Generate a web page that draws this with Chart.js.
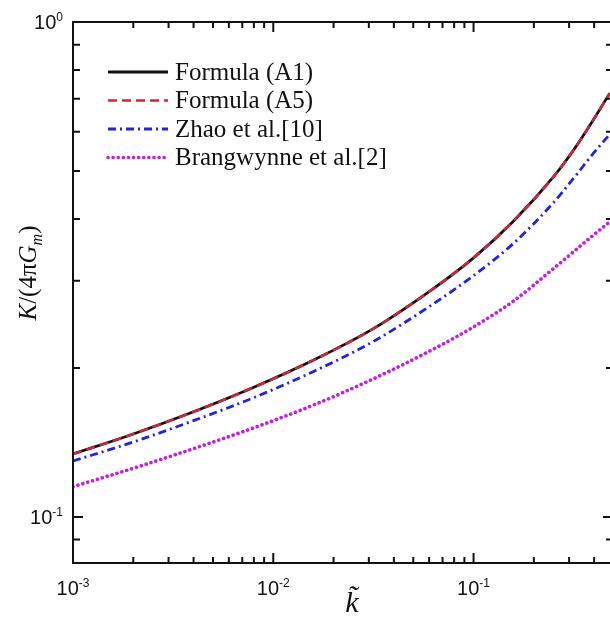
<!DOCTYPE html>
<html>
<head>
<meta charset="utf-8">
<script src="https://cdn.jsdelivr.net/npm/chart.js@4.4.0/dist/chart.umd.min.js"></script>
<style>
  html, body { margin: 0; padding: 0; background: #fff; }
  #wrap { width: 610px; height: 620px; }
</style>
</head>
<body>
<div id="wrap"><canvas id="kChart" width="610" height="620"></canvas></div>
<script>
// values
const kValues    = [0.001, 0.002, 0.004, 0.008, 0.016, 0.0316, 0.063, 0.1, 0.158, 0.251, 0.316, 0.398, 0.479];
const formulaA1  = [0.1340, 0.1471, 0.1631, 0.1828, 0.2077, 0.2401, 0.2893, 0.3338, 0.3958, 0.4870, 0.5513, 0.6360, 0.7183];
const formulaA5  = [0.1340, 0.1471, 0.1631, 0.1828, 0.2077, 0.2401, 0.2893, 0.3338, 0.3958, 0.4870, 0.5513, 0.6360, 0.7183];
const zhao       = [0.1297, 0.1417, 0.1565, 0.1742, 0.1970, 0.2262, 0.2695, 0.3073, 0.3568, 0.4319, 0.4835, 0.5437, 0.5932];
const brangwynne = [0.1151, 0.1254, 0.1374, 0.1514, 0.1685, 0.1901, 0.2183, 0.2421, 0.2729, 0.3177, 0.3436, 0.3716, 0.3948];

const seriesLabels = ['Formula (A1)', 'Formula (A5)', 'Zhao et al.[10]', 'Brangwynne et al.[2]'];

// tick labels are drawn as "10" + superscript exponent
const xTickValues = [0.001, 0.01, 0.1];
const xTickExps   = ['-3', '-2', '-1'];
const yTickValues = [0.1, 1];
const yTickExps   = ['-1', '0'];
const xMinorTicks = [0.002, 0.003, 0.004, 0.005, 0.006, 0.007, 0.008, 0.009,
                     0.02, 0.03, 0.04, 0.05, 0.06, 0.07, 0.08, 0.09, 0.2, 0.3, 0.4];
const yMinorTicks = [0.09, 0.2, 0.3, 0.4, 0.5, 0.6, 0.7, 0.8, 0.9];

const pts = (ys) => kValues.map((k, i) => ({x: k, y: ys[i]}));

const serif = '"Liberation Serif", "Times New Roman", serif';
const sans = '"Liberation Sans", Arial, sans-serif';

function drawPower(ctx, exp, x, y, align) {
  // "10" with a raised exponent, x is the anchor
  ctx.font = '20px ' + sans;
  const wBase = ctx.measureText('10').width;
  ctx.font = '12px ' + sans;
  const wExp = ctx.measureText(exp).width;
  const total = wBase + wExp;
  let left = x;
  if (align === 'center') left = x - total / 2;
  if (align === 'right') left = x - total;
  ctx.textAlign = 'left';
  ctx.textBaseline = 'alphabetic';
  ctx.font = '20px ' + sans;
  ctx.fillText('10', left, y);
  ctx.font = '12px ' + sans;
  ctx.fillText(exp, left + wBase, y - 8);
}

const frame = {
  id: 'frame',
  afterDraw(chart) {
    const {ctx, chartArea: a, scales: {x, y}} = chart;
    ctx.save();
    ctx.strokeStyle = '#111';
    ctx.fillStyle = '#111';
    ctx.lineWidth = 2;
    ctx.beginPath();
    ctx.moveTo(a.right + 4, a.top);
    ctx.lineTo(a.left, a.top);
    ctx.lineTo(a.left, a.bottom);
    ctx.lineTo(a.right + 4, a.bottom);
    ctx.stroke();

    // inward ticks on all four sides
    const R = a.right + 3;
    ctx.beginPath();
    xTickValues.forEach(v => {
      const px = x.getPixelForValue(v);
      ctx.moveTo(px, a.bottom); ctx.lineTo(px, a.bottom - 10);
      ctx.moveTo(px, a.top); ctx.lineTo(px, a.top + 10);
    });
    xMinorTicks.forEach(v => {
      const px = x.getPixelForValue(v);
      ctx.moveTo(px, a.bottom); ctx.lineTo(px, a.bottom - 6);
      ctx.moveTo(px, a.top); ctx.lineTo(px, a.top + 6);
    });
    yTickValues.forEach(v => {
      const py = y.getPixelForValue(v);
      ctx.moveTo(a.left, py); ctx.lineTo(a.left + 10, py);
      ctx.moveTo(R, py); ctx.lineTo(R - 10, py);
    });
    yMinorTicks.forEach(v => {
      const py = y.getPixelForValue(v);
      ctx.moveTo(a.left, py); ctx.lineTo(a.left + 7, py);
      ctx.moveTo(R, py); ctx.lineTo(R - 7, py);
    });
    ctx.stroke();

    // tick labels
    xTickValues.forEach((v, i) => drawPower(ctx, xTickExps[i], x.getPixelForValue(v), a.bottom + 32, 'center'));
    yTickValues.forEach((v, i) => drawPower(ctx, yTickExps[i], a.left - 10, y.getPixelForValue(v) + 7, 'right'));

    // x title
    ctx.font = 'italic 30px ' + serif;
    ctx.textAlign = 'center';
    ctx.textBaseline = 'alphabetic';
    ctx.fillText('k\u0303', 352, 612);

    // y title: K/(4πG_m)
    ctx.translate(36, 273);
    ctx.rotate(-Math.PI / 2);
    const parts = [
      {t: 'K', f: 'italic 25px ' + serif, dy: 0},
      {t: '/(4\u03c0', f: '25px ' + serif, dy: 0},
      {t: 'G', f: 'italic 25px ' + serif, dy: 0},
      {t: 'm', f: 'italic 16px ' + serif, dy: 6},
      {t: ')', f: '25px ' + serif, dy: 0}
    ];
    let tw = 0;
    parts.forEach(p => { ctx.font = p.f; p.w = ctx.measureText(p.t).width; tw += p.w; });
    let cx = -tw / 2;
    ctx.textAlign = 'left';
    parts.forEach(p => { ctx.font = p.f; ctx.fillText(p.t, cx, p.dy); cx += p.w; });
    ctx.restore();

    // legend
    ctx.save();
    chart.data.datasets.forEach((ds, i) => {
      const ly = 72 + i * 28.5;
      ctx.strokeStyle = ds.borderColor;
      ctx.lineWidth = ds.borderWidth;
      ctx.lineCap = ds.borderCapStyle || 'butt';
      ctx.setLineDash(ds.borderDash || []);
      ctx.beginPath();
      ctx.moveTo(108, ly);
      ctx.lineTo(168, ly);
      ctx.stroke();
      ctx.setLineDash([]);
      ctx.fillStyle = '#111';
      ctx.font = '25px ' + serif;
      ctx.textAlign = 'left';
      ctx.textBaseline = 'middle';
      ctx.fillText(ds.label, 175, ly + 1);
    });
    ctx.restore();
  }
};

const ctx = document.getElementById('kChart').getContext('2d');
const kChart = new Chart(ctx, {
  type: 'line',
  data: {
    datasets: [{
      label: seriesLabels[0],
      data: pts(formulaA1),
      borderColor: '#111111',
      borderWidth: 2.8,
      order: 3
    }, {
      label: seriesLabels[1],
      data: pts(formulaA5),
      borderColor: '#c8283a',
      borderWidth: 2.6,
      borderDash: [9, 5],
      order: 2
    }, {
      label: seriesLabels[2],
      data: pts(zhao),
      borderColor: '#2222e6',
      borderWidth: 2.8,
      borderDash: [8, 4, 2, 4],
      order: 1
    }, {
      label: seriesLabels[3],
      data: pts(brangwynne),
      borderColor: '#c21fe3',
      borderWidth: 3.6,
      borderDash: [0.1, 5],
      borderCapStyle: 'round',
      order: 0
    }]
  },
  options: {
    responsive: false,
    animation: false,
    parsing: false,
    layout: {padding: {left: 73, top: 22, right: 0, bottom: 57}},
    elements: {point: {radius: 0}, line: {cubicInterpolationMode: 'monotone'}},
    plugins: {legend: {display: false}, tooltip: {enabled: false}},
    scales: {
      x: {type: 'logarithmic', min: 0.001, max: 0.48, display: false},
      y: {type: 'logarithmic', min: 0.0807, max: 1, display: false}
    }
  },
  plugins: [frame]
});
</script>
</body>
</html>
